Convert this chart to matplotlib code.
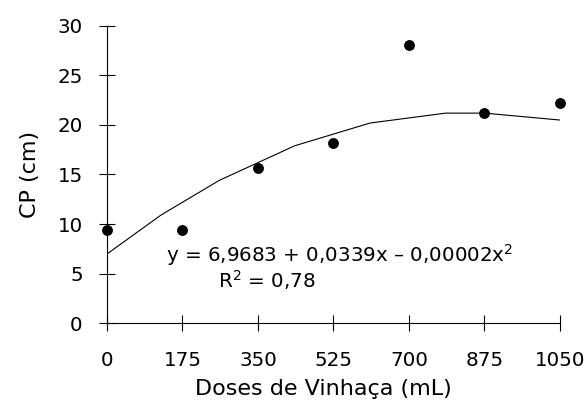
import numpy as np
import matplotlib.pyplot as plt

plt.rcParams['font.family'] = ['DejaVu Sans']
plt.rcParams['mathtext.fontset'] = 'dejavusans'

# observed values
doses = [0, 175, 350, 525, 700, 875, 1050]
cp = [9.4, 9.4, 15.7, 18.2, 28.1, 21.2, 22.2]

# trendline vertices as drawn in the source
trend_x = [0, 125, 260, 435, 610, 785, 875, 1050]
trend_y = [6.97, 10.9, 14.4, 17.9, 20.2, 21.2, 21.2, 20.5]

xticks = [0, 175, 350, 525, 700, 875, 1050]
yticks = [0, 5, 10, 15, 20, 25, 30]

fig = plt.figure(figsize=(5.86, 4.03), dpi=100)
ax = fig.add_axes([0.1826, 0.1985, 0.773, 0.737])

ax.plot(trend_x, trend_y, color='black', lw=0.8)
ax.plot(doses, cp, 'o', color='black', ms=6.8, clip_on=False, zorder=3)

ax.set_xlim(0, 1050)
ax.set_ylim(0, 30)
ax.set_xticks(xticks)
ax.set_yticks(yticks)
ax.spines['top'].set_visible(False)
ax.spines['right'].set_visible(False)
for s in ['left', 'bottom']:
    ax.spines[s].set_linewidth(0.8)
ax.tick_params(axis='both', direction='inout', length=11, width=0.8, labelsize=14.3)
ax.tick_params(axis='x', pad=15)
ax.tick_params(axis='y', pad=12)

ax.set_xlabel('Doses de Vinhaça (mL)', fontsize=16)
ax.set_ylabel('CP (cm)', fontsize=16)
ax.xaxis.set_label_coords(0.477, -0.19)
ax.yaxis.set_label_coords(-0.148, 0.5)

ax.text(0.13, 0.207, 'y = 6,9683 + 0,0339x – 0,00002x$^2$', transform=ax.transAxes,
        fontsize=14.3, ha='left', va='baseline')
ax.text(0.245, 0.12, 'R$^2$ = 0,78', transform=ax.transAxes,
        fontsize=14.3, ha='left', va='baseline')

fig.savefig('out.png', dpi=100)
